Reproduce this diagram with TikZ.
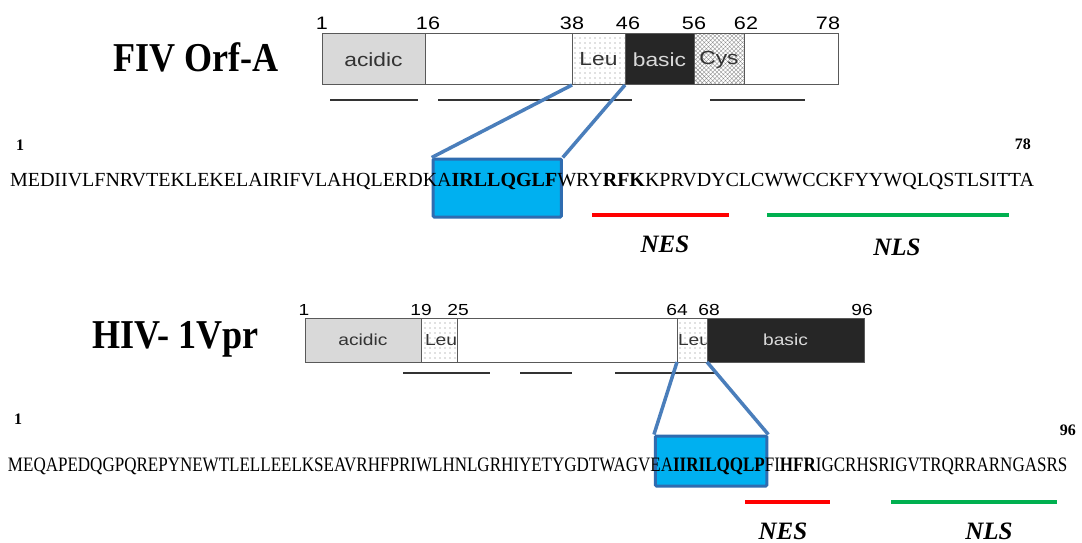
\documentclass[tikz,border=0pt]{standalone}
\usepackage{fontspec}
\setmainfont{Liberation Serif}
\newfontfamily\barfont[FakeStretch=1.2]{Liberation Sans}
\newfontfamily\titlefont[FakeStretch=0.88]{Liberation Serif}
\newfontfamily\hivseqfont[FakeStretch=0.83]{Liberation Serif}
\usepackage{xcolor}
\usepackage{tikz}
\usetikzlibrary{fit,backgrounds,patterns.meta}

\definecolor{acidgray}{HTML}{D9D9D9}
\definecolor{basicblack}{HTML}{262626}
\definecolor{linkblue}{HTML}{4A7EBB}
\definecolor{boxblue}{HTML}{00B0F0}
\definecolor{boxedge}{HTML}{2F6CB0}
\definecolor{nesred}{HTML}{FF0000}
\definecolor{nlsgreen}{HTML}{00B050}

\tikzset{
    seg/.style={draw=black!65, line width=1pt, anchor=north west,
        inner sep=0pt, outer sep=0pt, text=black!80},
    segA/.style={seg, minimum height=51pt, font=\barfont\fontsize{19}{19}\selectfont},
    segH/.style={seg, minimum height=44pt, font=\barfont\fontsize{16}{16}\selectfont},
    acid/.style={fill=acidgray},
    blank/.style={fill=white},
    leu/.style={pattern={Dots[distance=5pt,radius=0.55pt]}, pattern color=black!50},
    cys/.style={pattern={Hatch[distance=3pt,angle=45,line width=0.4pt]}, pattern color=black!45},
    basic/.style={fill=basicblack, text=black!15},
    posA/.style={anchor=base, inner sep=0pt, font=\barfont\fontsize{18}{18}\selectfont},
    posH/.style={anchor=base, inner sep=0pt, font=\barfont\fontsize{16}{16}\selectfont},
    domline/.style={draw=black!80, line width=2.5pt},
    fivseq/.style={anchor=base west, inner sep=0pt, outer sep=0pt,
        font=\fontsize{20}{20}\selectfont},
    hivseq/.style={anchor=base west, inner sep=0pt, outer sep=0pt,
        font=\hivseqfont\fontsize{20.5}{21}\selectfont},
    endnum/.style={inner sep=0pt, font=\bfseries\fontsize{16}{16}\selectfont},
    motif/.style={draw=boxedge, fill=boxblue, line width=3pt, inner sep=0pt,
        rounded corners=1pt},
    link/.style={draw=linkblue, line width=3.5pt},
    signal/.style={line width=4pt},
    tag/.style={anchor=base, inner sep=0pt, font=\bfseries\itshape\fontsize{25}{25}\selectfont},
    title/.style={anchor=base west, inner sep=0pt,
        font=\titlefont\bfseries\fontsize{41}{41}\selectfont},
}

\begin{document}
\begin{tikzpicture}[x=1pt, y=-1pt]
        \begin{pgfonlayer}{background}
            \fill[white] (0,0) rectangle (1082,543);
        \end{pgfonlayer}
        \useasboundingbox (0,0) rectangle (1082,543);

        \node (titleA) [title] at (113,72) {FIV Orf-A};
        \node (titleH) [title] at (92,348) {HIV- 1Vpr};

        \node (acidA)   [segA, acid, minimum width=103pt] at (322,34) {acidic};
        \node (blankA1) [segA, blank, minimum width=147pt] at (acidA.north east) {};
        \node (leuA)    [segA, leu, minimum width=53pt] at (blankA1.north east) {Leu};
        \node (basicA)  [segA, basic, minimum width=69pt] at (leuA.north east) {basic};
        \node (cysA)    [segA, cys, minimum width=50pt] at (basicA.north east) {Cys};
        \node (blankA2) [segA, blank, minimum width=94pt] at (cysA.north east) {};

        \node (posA1)  [posA] at (322,30) {1};
        \node (posA16) [posA] at (428,30) {16};
        \node (posA38) [posA] at (572,30) {38};
        \node (posA46) [posA] at (628,30) {46};
        \node (posA56) [posA] at (694,30) {56};
        \node (posA62) [posA] at (746,30) {62};
        \node (posA78) [posA] at (828,30) {78};

        \draw[domline] (330,100) -- (418,100);
        \draw[domline] (438,100) -- (632,100);
        \draw[domline] (710,100) -- (805,100);

        \node (endA1)  [endnum, anchor=base west] at (16,150) {1};
        \node (endA78) [endnum, anchor=base east] at (1031,149) {78};

        \node (fivA) [fivseq] at (10,186) {MEDIIVLFNRVTEKLEKELAIRIFVLAHQLERDK};
        \node (fivB) [fivseq] at (fivA.base east) {A};
        \node (fivC) [fivseq] at (fivB.base east) {\bfseries IRLLQGLF};
        \node (fivD) [fivseq] at (fivC.base east) {WRY};
        \node (fivE) [fivseq] at (fivD.base east) {\bfseries RFK};
        \node (fivF) [fivseq] at (fivE.base east) {KPRVDYCLCWWCCKFYYWQLQSTLSITTA};

        \begin{pgfonlayer}{background}
            \node (motifA) [motif, fit={([xshift=-4pt,yshift=27pt]fivB.base west)
                ([xshift=4pt,yshift=-31pt]fivC.base east)}] {};
        \end{pgfonlayer}
        \draw[link] (leuA.south west) -- (motifA.north west);
        \draw[link] (leuA.south east) -- (motifA.north east);

        \draw[signal, nesred]   (592,215) -- (729,215);
        \draw[signal, nlsgreen] (767,215) -- (1009,215);
        \node (nesA) [tag] at (665,252) {NES};
        \node (nlsA) [tag] at (897,255) {NLS};

        \node (acidH)  [segH, acid, minimum width=116pt] at (305,318) {acidic};
        \node (leuH1)  [segH, leu, minimum width=36pt] at (acidH.north east)
            {\makebox[36pt][l]{\hspace{4pt}Leu}};
        \node (blankH) [segH, blank, minimum width=220pt] at (leuH1.north east) {};
        \node (leuH2)  [segH, leu, minimum width=30pt] at (blankH.north east)
            {\makebox[30pt][l]{\hspace{1pt}Leu}};
        \node (basicH) [segH, basic, minimum width=157pt] at (leuH2.north east) {basic};

        \node (posH1)  [posH] at (304,315) {1};
        \node (posH19) [posH] at (421,315) {19};
        \node (posH25) [posH] at (458,315) {25};
        \node (posH64) [posH] at (677,315) {64};
        \node (posH68) [posH] at (709,315) {68};
        \node (posH96) [posH] at (862,315) {96};

        \draw[domline] (403,373) -- (490,373);
        \draw[domline] (520,373) -- (572,373);
        \draw[domline] (615,373) -- (716,373);

        \node (endH1)  [endnum, anchor=base west] at (14,424) {1};
        \node (endH96) [endnum, anchor=base east] at (1076,435) {96};

        \node (hivA) [hivseq] at (8,471) {MEQAPEDQGPQREPYNEWTLELLEELKSEAVRHFPRIWLHNLGRHIYETYGDTWAGV};
        \node (hivB) [hivseq] at (hivA.base east) {EA};
        \node (hivC) [hivseq] at (hivB.base east) {\bfseries IIRILQQLP};
        \node (hivD) [hivseq] at (hivC.base east) {FI};
        \node (hivE) [hivseq] at (hivD.base east) {\bfseries HFR};
        \node (hivF) [hivseq] at (hivE.base east) {IGCRHSRIGVTRQRRARNGASRS};

        \begin{pgfonlayer}{background}
            \node (motifH) [motif, fit={([xshift=5pt,yshift=35pt]hivB.base west)
                ([xshift=2pt,yshift=-15pt]hivC.base east)}] {};
        \end{pgfonlayer}
        \draw[link] (leuH2.south west) -- (motifH.north west);
        \draw[link] (leuH2.south east) -- (motifH.north east);

        \draw[signal, nesred]   (745,502) -- (830,502);
        \draw[signal, nlsgreen] (891,502) -- (1057,502);
        \node (nesH) [tag] at (783,539) {NES};
        \node (nlsH) [tag] at (989,539) {NLS};
    \end{tikzpicture}
\end{document}
